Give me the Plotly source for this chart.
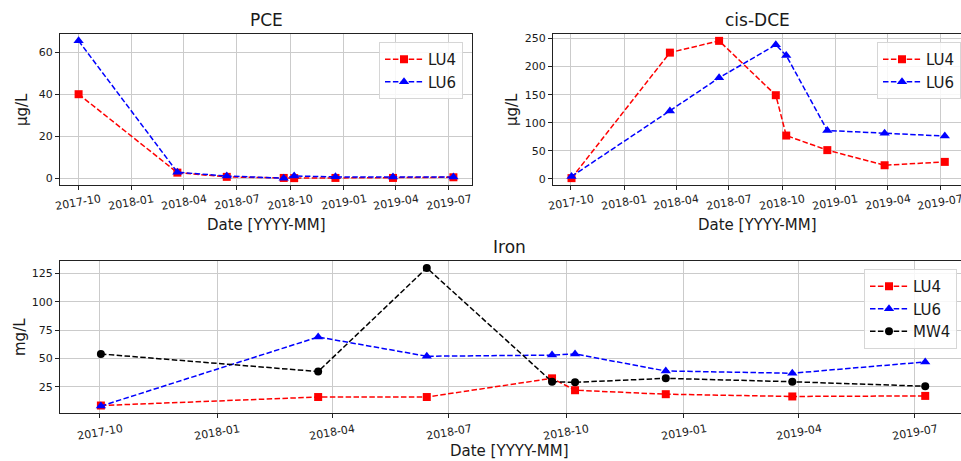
import plotly.graph_objects as go

W, H = 961, 461

dates = ["2017-10-02", "2018-03-21", "2018-06-14", "2018-09-20",
         "2018-10-08", "2018-12-18", "2019-03-27", "2019-07-09"]

tick_labels = ["2017-10", "2018-01", "2018-04", "2018-07",
               "2018-10", "2019-01", "2019-04", "2019-07"]

pce_lu4 = [40.0, 2.8, 0.8, 0.3, 0.2, 0.3, 0.3, 0.6]
pce_lu6 = [65.3, 3.0, 1.2, 0.2, 1.2, 0.8, 0.7, 0.7]

dce_lu4 = [1, 225, 246, 149, 77, 51, 24, 30]
dce_lu6 = [4, 121, 180, 239, 220, 86, 81, 76]

fe_lu4 = [8.5, 16, 16, 32.5, 22, 18.5, 16.5, 17]
fe_lu6 = [8, 69, 52, 53, 54, 39, 37, 47]
fe_mw4 = [54, 38.5, 130, 29.5, 29, 32.5, 29.5, 25.5]

FONT = "DejaVu Sans"
TXT = "#1a1a1a"
GRID = "#cbcbcb"
DASH = "5.5px,2.4px"

styles = {
    "LU4": dict(color="#ff0000", symbol="square", size=8),
    "LU6": dict(color="#0000ff", symbol="triangle-up", size=9),
    "MW4": dict(color="#000000", symbol="circle", size=8),
}


def px_x(a, b):
    return [a / W, b / W]


def px_y(top, bottom):
    return [(H - bottom) / H, (H - top) / H]


def padded(*series):
    vals = [v for s in series for v in s]
    lo, hi = min(vals), max(vals)
    span = hi - lo
    return [lo - 0.05 * span, hi + 0.05 * span]


fig = go.Figure()


def add(name, y, xa, ya, legend):
    st = styles[name]
    fig.add_trace(go.Scatter(
        x=dates, y=y, name=name, mode="lines+markers",
        line=dict(color=st["color"], width=1.5, dash=DASH),
        marker=dict(color=st["color"], symbol=st["symbol"], size=st["size"],
                    line=dict(width=0)),
        xaxis=xa, yaxis=ya, legend=legend, showlegend=True,
    ))


add("LU4", pce_lu4, "x", "y", "legend")
add("LU6", pce_lu6, "x", "y", "legend")
add("LU4", dce_lu4, "x2", "y2", "legend2")
add("LU6", dce_lu6, "x2", "y2", "legend2")
add("LU4", fe_lu4, "x3", "y3", "legend3")
add("LU6", fe_lu6, "x3", "y3", "legend3")
add("MW4", fe_mw4, "x3", "y3", "legend3")

tickvals_x = [t + "-01" for t in tick_labels]

xcommon = dict(
    type="date", tickvals=tickvals_x, showticklabels=False, automargin=False,
    showgrid=True, gridcolor=GRID, gridwidth=1,
    ticks="outside", ticklen=4, tickcolor="#222", tickwidth=1,
    showline=True, linecolor="#222", linewidth=1, mirror=True, zeroline=False,
)
ycommon = dict(
    automargin=False, showgrid=True, gridcolor=GRID, gridwidth=1,
    ticks="outside", ticklen=4, tickcolor="#222", tickwidth=1,
    showline=True, linecolor="#222", linewidth=1, mirror=True,
    tickfont=dict(family=FONT, size=11, color=TXT), zeroline=False,
)

legcommon = dict(
    bgcolor="rgba(255,255,255,0.85)", bordercolor="#d6d6d6", borderwidth=1,
    font=dict(family=FONT, size=15, color=TXT), xanchor="right", yanchor="top",
    itemwidth=38,
)

fig.update_layout(
    width=W, height=H,
    margin=dict(l=0, r=0, t=0, b=0, autoexpand=False),
    paper_bgcolor="white", plot_bgcolor="white",
    font=dict(family=FONT, color=TXT),
    xaxis=dict(xcommon, domain=px_x(60, 472), range=["2017-08-31", "2019-08-10"], anchor="y"),
    yaxis=dict(ycommon, domain=px_y(34, 185), range=padded(pce_lu4, pce_lu6),
               tickvals=[0, 20, 40, 60], anchor="x"),
    xaxis2=dict(xcommon, domain=px_x(553, 961), range=["2017-08-31", "2019-08-06"], anchor="y2"),
    yaxis2=dict(ycommon, domain=px_y(34, 185), range=padded(dce_lu4, dce_lu6),
                tickvals=[0, 50, 100, 150, 200, 250], anchor="x2"),
    xaxis3=dict(xcommon, domain=px_x(60, 961), range=["2017-08-31", "2019-08-06"], anchor="y3"),
    yaxis3=dict(ycommon, domain=px_y(261, 413), range=padded(fe_lu4, fe_lu6, fe_mw4),
                tickvals=[25, 50, 75, 100, 125], anchor="x3"),
    legend=dict(legcommon, x=463 / W, y=(H - 42) / H),
    legend2=dict(legcommon, x=961 / W, y=(H - 42) / H),
    legend3=dict(legcommon, x=957 / W, y=(H - 269) / H),
)

# rotated, centred date tick labels (matplotlib style)
for xa, ypx in (("x", 202), ("x2", 202), ("x3", 432)):
    for lab, tv in zip(tick_labels, tickvals_x):
        fig.add_annotation(
            text=lab, x=tv, y=(H - ypx) / H, xref=xa, yref="paper",
            showarrow=False, textangle=-10, xanchor="center", yanchor="middle",
            font=dict(family=FONT, size=11, color=TXT),
        )

ann = [
    ("PCE", 266, 20, 0, 17),
    ("cis-DCE", 757, 20, 0, 17),
    ("Iron", 509, 247, 0, 17),
    ("Date [YYYY-MM]", 266, 225, 0, 15),
    ("Date [YYYY-MM]", 757, 225, 0, 15),
    ("Date [YYYY-MM]", 509, 451, 0, 15),
    ("µg/L", 22, 110, -90, 15),
    ("µg/L", 512, 110, -90, 15),
    ("mg/L", 20, 337, -90, 15),
]
for text, x, y, ang, size in ann:
    fig.add_annotation(
        text=text, x=x / W, y=(H - y) / H, xref="paper", yref="paper",
        showarrow=False, textangle=ang, xanchor="center", yanchor="middle",
        font=dict(family=FONT, size=size, color=TXT),
    )

fig.write_html(
    "out.html",
    config={"displayModeBar": False},
    post_script="document.body.style.margin='0';document.body.style.overflow='hidden';",
)
